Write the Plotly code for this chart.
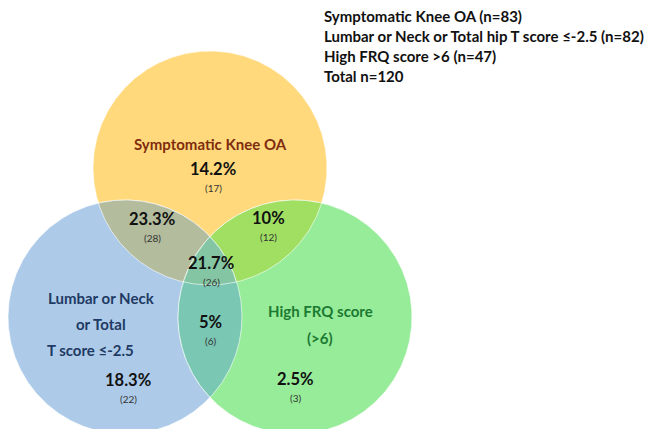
import numpy as np
import plotly.graph_objects as go

# ---- data ----
set_names = ["Symptomatic Knee OA", "Lumbar or Neck or Total hip T score \u2264-2.5", "High FRQ score >6"]
set_counts = [83, 82, 47]
total_n = 120
circle_labels = [["Symptomatic Knee OA"], ["Lumbar or Neck", "or Total", "T score \u2264-2.5"],
                 ["High FRQ score", "(>6)"]]
region_keys = ["A", "AB", "AC", "ABC", "B", "BC", "C"]
region_counts = [17, 28, 12, 26, 22, 6, 3]

# ---- layout (pixel-like coordinates) ----
W, H = 653, 429
R = 117
centers = {"A": (210, 168), "B": (125, 317), "C": (295, 317)}
fill_colors = {"A": "#FFD97C", "B": "#ADCBE9", "C": "#96EC98",
               "AB": "#B3BC9D", "AC": "#A0DF62", "BC": "#7AC7B4", "ABC": "#84C6A3"}
label_pos = {"A": (213, 169), "AB": (152, 219), "AC": (268, 218), "ABC": (211, 263),
             "B": (128, 380), "BC": (210, 322), "C": (295, 379)}
name_lines_pos = [[(210, 144)], [(101, 298), (101, 324), (90, 350)], [(320, 311), (320, 338)]]
name_colors = ["#7F2C0E", "#1F3A63", "#1D7A32"]

fig = go.Figure()

theta = np.linspace(0, 2 * np.pi, 721)


def region_poly(keys):
    pts = []
    for k in keys:
        cx, cy = centers[k]
        xs = cx + R * np.cos(theta)
        ys = cy + R * np.sin(theta)
        mask = np.ones_like(xs, dtype=bool)
        for o in keys:
            if o == k:
                continue
            ox, oy = centers[o]
            mask &= (xs - ox) ** 2 + (ys - oy) ** 2 <= R ** 2 + 1e-6
        pts.append(np.column_stack([xs[mask], ys[mask]]))
    P = np.vstack(pts)
    c = P.mean(axis=0)
    ang = np.arctan2(P[:, 1] - c[1], P[:, 0] - c[0])
    P = P[np.argsort(ang)]
    return np.vstack([P, P[:1]])


for keys in [["A"], ["B"], ["C"], ["A", "B"], ["A", "C"], ["B", "C"], ["A", "B", "C"]]:
    P = region_poly(keys)
    fig.add_trace(go.Scatter(x=P[:, 0], y=P[:, 1], mode="lines", fill="toself",
                             fillcolor=fill_colors["".join(keys)],
                             line=dict(color="rgba(255,255,255,0.6)", width=1),
                             hoverinfo="skip", showlegend=False))

# circle names
for positions, lines, col in zip(name_lines_pos, circle_labels, name_colors):
    for (x, y), txt in zip(positions, lines):
        fig.add_annotation(x=x, y=y, text="<b>" + txt + "</b>", showarrow=False,
                           font=dict(family="Lato", size=15, color=col),
                           align="center", xanchor="center", yanchor="middle")

# region values
for k, n in zip(region_keys, region_counts):
    p = n / total_n * 100
    s = f"{p:.1f}".rstrip("0").rstrip(".") + "%"
    x, y = label_pos[k]
    fig.add_annotation(x=x, y=y, text="<b>" + s + "</b>", showarrow=False,
                       font=dict(family="Lato", size=16.5, color="#111111"),
                       xanchor="center", yanchor="middle")
    fig.add_annotation(x=x, y=y + 19, text=f"({n})", showarrow=False,
                       font=dict(family="Lato", size=10, color="#333333"),
                       xanchor="center", yanchor="middle")

# legend text
legend_lines = [f"{nm} (n={c})" for nm, c in zip(set_names, set_counts)] + [f"Total n={total_n}"]
for i, line in enumerate(legend_lines):
    fig.add_annotation(x=322, y=16 + 20 * i, text="<b>" + line + "</b>", showarrow=False,
                       font=dict(family="Lato", size=15, color="#111111"),
                       xanchor="left", yanchor="middle")

fig.update_layout(
    width=W, height=H,
    margin=dict(l=0, r=0, t=0, b=0),
    paper_bgcolor="white", plot_bgcolor="white",
    xaxis=dict(range=[0, W], visible=False, fixedrange=True),
    yaxis=dict(range=[H, 0], visible=False, fixedrange=True),
)

fig.write_html("out.html", config={"displayModeBar": False},
               post_script="document.body.style.margin='0';document.body.style.overflow='hidden';")
